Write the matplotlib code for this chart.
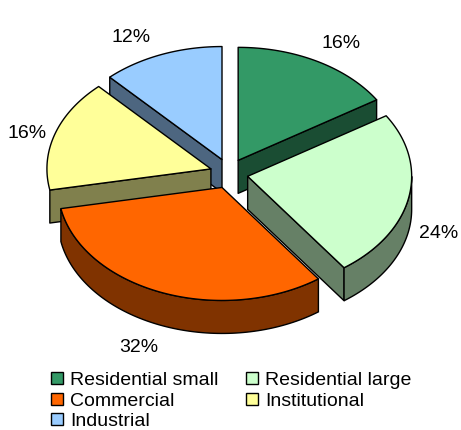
import numpy as np
import matplotlib
matplotlib.use("Agg")
import matplotlib.pyplot as plt
from matplotlib.patches import Polygon, Patch

categories = ["Residential small", "Residential large", "Commercial", "Institutional", "Industrial"]
shares = [16, 24, 32, 16, 12]
colors = ["#339966", "#CCFFCC", "#FF6600", "#FFFF99", "#99CCFF"]
wall_colors = ["#1A4D33", "#668066", "#803300", "#80804D", "#4D6680"]

# pixel layout of the fake 3D pie
center = (229, 173.5)
rx, ry = 164, 113
explode_x, explode_y = 19, 15
depth = 33
label_xy = [(341, 44), (439, 234), (139, 348), (27, 133), (131, 38)]
draw_order = [4, 0, 3, 1, 2]

plt.rcParams["font.family"] = ["Liberation Sans", "DejaVu Sans"]


def arc(cx, cy, a0, a1):
    # angles in degrees, clockwise from the top of the pie
    t = np.radians(np.linspace(a0, a1, 90))
    return np.column_stack([cx + rx * np.sin(t), cy - ry * np.cos(t)])


fig = plt.figure(figsize=(4.61, 4.30), dpi=100)
ax = fig.add_axes([0, 0, 1, 1])
ax.set_xlim(0, 461)
ax.set_ylim(430, 0)
ax.axis("off")

edges = np.cumsum([0] + shares) / sum(shares) * 360

for i in draw_order:
    a0, a1 = edges[i], edges[i + 1]
    mid = np.radians((a0 + a1) / 2)
    cx = center[0] + explode_x * np.sin(mid)
    cy = center[1] - explode_y * np.cos(mid)
    top = arc(cx, cy, a0, a1)
    apex = np.array([cx, cy])
    down = np.array([0, depth])

    # cut faces, only the ones turned towards the viewer
    for end, normal in ((top[0], a0 - 90), (top[-1], a1 + 90)):
        if np.cos(np.radians(normal)) < 0:
            wall = [apex, end, end + down, apex + down]
            ax.add_patch(Polygon(wall, fc=wall_colors[i], ec="black", lw=1.0, joinstyle="round"))

    # outer rim, front half of the ellipse only, thin slivers are left out
    r0, r1 = max(a0, 90), min(a1, 270)
    if r1 - r0 > 15:
        rim = arc(cx, cy, r0, r1)
        ax.add_patch(Polygon(np.vstack([rim, rim[::-1] + down]), fc=wall_colors[i], ec="black", lw=1.0))

    ax.add_patch(Polygon(np.vstack([apex, top]), fc=colors[i], ec="black", lw=1.0, joinstyle="round"))

for (x, y), s in zip(label_xy, shares):
    ax.text(x, y, f"{s}%", ha="center", va="center", fontsize=14, color="black")

# legend fills column by column, the reference reads row by row
order = [0, 2, 4, 1, 3]
handles = [Patch(fc=colors[i], ec="black", lw=1.0, label=categories[i]) for i in order]
ax.legend(handles=handles, ncol=2, loc="upper left", bbox_to_anchor=(51 / 461, 1 - 372 / 430),
          frameon=False, fontsize=14, borderpad=0, borderaxespad=0, handlelength=0.62,
          handleheight=0.57, handletextpad=0.36, columnspacing=1.44, labelspacing=0.18)

fig.savefig("out.png", dpi=100)
